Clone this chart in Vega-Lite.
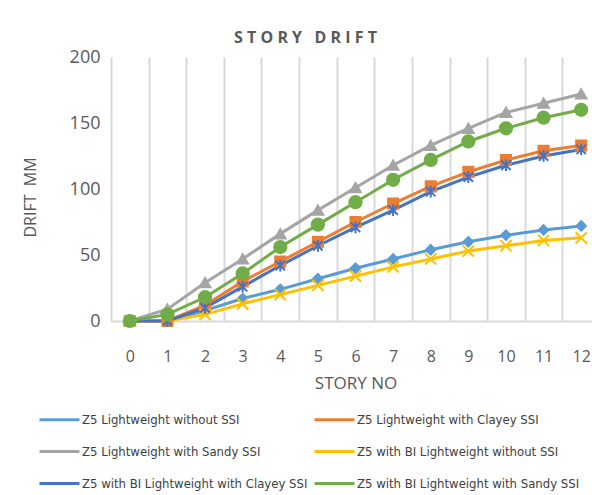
{
  "$schema": "https://vega.github.io/schema/vega-lite/v6.json",
  "autosize": "none",
  "padding": {"left": 111, "top": 57, "right": 0, "bottom": 174},
  "width": 489,
  "height": 264,
  "background": "white",
  "config": {"view": {"stroke": null}, "font": "Open Sans"},
  "title": {"text": "S T O R Y \u00a0 D R I F T", "fontSize": 16, "fontWeight": "bold", "color": "#595959", "font": "Open Sans", "dx": -50, "dy": 24, "baseline": "bottom", "offset": 10, "anchor": "middle"},
  "data": {"values": [
    {"story": 0, "drift": 0, "series": "Z5 Lightweight without SSI"},
    {"story": 1, "drift": 0, "series": "Z5 Lightweight without SSI"},
    {"story": 2, "drift": 8, "series": "Z5 Lightweight without SSI"},
    {"story": 3, "drift": 17, "series": "Z5 Lightweight without SSI"},
    {"story": 4, "drift": 24, "series": "Z5 Lightweight without SSI"},
    {"story": 5, "drift": 32, "series": "Z5 Lightweight without SSI"},
    {"story": 6, "drift": 40, "series": "Z5 Lightweight without SSI"},
    {"story": 7, "drift": 47, "series": "Z5 Lightweight without SSI"},
    {"story": 8, "drift": 54, "series": "Z5 Lightweight without SSI"},
    {"story": 9, "drift": 60, "series": "Z5 Lightweight without SSI"},
    {"story": 10, "drift": 65, "series": "Z5 Lightweight without SSI"},
    {"story": 11, "drift": 69, "series": "Z5 Lightweight without SSI"},
    {"story": 12, "drift": 72, "series": "Z5 Lightweight without SSI"},
    {"story": 0, "drift": 0, "series": "Z5 Lightweight with Clayey SSI"},
    {"story": 1, "drift": 0, "series": "Z5 Lightweight with Clayey SSI"},
    {"story": 2, "drift": 12, "series": "Z5 Lightweight with Clayey SSI"},
    {"story": 3, "drift": 30, "series": "Z5 Lightweight with Clayey SSI"},
    {"story": 4, "drift": 45, "series": "Z5 Lightweight with Clayey SSI"},
    {"story": 5, "drift": 60, "series": "Z5 Lightweight with Clayey SSI"},
    {"story": 6, "drift": 75, "series": "Z5 Lightweight with Clayey SSI"},
    {"story": 7, "drift": 89, "series": "Z5 Lightweight with Clayey SSI"},
    {"story": 8, "drift": 102, "series": "Z5 Lightweight with Clayey SSI"},
    {"story": 9, "drift": 113, "series": "Z5 Lightweight with Clayey SSI"},
    {"story": 10, "drift": 122, "series": "Z5 Lightweight with Clayey SSI"},
    {"story": 11, "drift": 129, "series": "Z5 Lightweight with Clayey SSI"},
    {"story": 12, "drift": 133, "series": "Z5 Lightweight with Clayey SSI"},
    {"story": 0, "drift": 0, "series": "Z5 Lightweight with Sandy SSI"},
    {"story": 1, "drift": 9, "series": "Z5 Lightweight with Sandy SSI"},
    {"story": 2, "drift": 29, "series": "Z5 Lightweight with Sandy SSI"},
    {"story": 3, "drift": 47, "series": "Z5 Lightweight with Sandy SSI"},
    {"story": 4, "drift": 66, "series": "Z5 Lightweight with Sandy SSI"},
    {"story": 5, "drift": 84, "series": "Z5 Lightweight with Sandy SSI"},
    {"story": 6, "drift": 101, "series": "Z5 Lightweight with Sandy SSI"},
    {"story": 7, "drift": 118, "series": "Z5 Lightweight with Sandy SSI"},
    {"story": 8, "drift": 133, "series": "Z5 Lightweight with Sandy SSI"},
    {"story": 9, "drift": 146, "series": "Z5 Lightweight with Sandy SSI"},
    {"story": 10, "drift": 158, "series": "Z5 Lightweight with Sandy SSI"},
    {"story": 11, "drift": 165, "series": "Z5 Lightweight with Sandy SSI"},
    {"story": 12, "drift": 172, "series": "Z5 Lightweight with Sandy SSI"},
    {"story": 0, "drift": 0, "series": "Z5 with BI Lightweight without SSI"},
    {"story": 1, "drift": 0, "series": "Z5 with BI Lightweight without SSI"},
    {"story": 2, "drift": 5, "series": "Z5 with BI Lightweight without SSI"},
    {"story": 3, "drift": 13, "series": "Z5 with BI Lightweight without SSI"},
    {"story": 4, "drift": 20, "series": "Z5 with BI Lightweight without SSI"},
    {"story": 5, "drift": 27, "series": "Z5 with BI Lightweight without SSI"},
    {"story": 6, "drift": 34, "series": "Z5 with BI Lightweight without SSI"},
    {"story": 7, "drift": 41, "series": "Z5 with BI Lightweight without SSI"},
    {"story": 8, "drift": 47, "series": "Z5 with BI Lightweight without SSI"},
    {"story": 9, "drift": 53, "series": "Z5 with BI Lightweight without SSI"},
    {"story": 10, "drift": 57, "series": "Z5 with BI Lightweight without SSI"},
    {"story": 11, "drift": 61, "series": "Z5 with BI Lightweight without SSI"},
    {"story": 12, "drift": 63, "series": "Z5 with BI Lightweight without SSI"},
    {"story": 0, "drift": 0, "series": "Z5 with BI Lightweight with Clayey SSI"},
    {"story": 1, "drift": 0, "series": "Z5 with BI Lightweight with Clayey SSI"},
    {"story": 2, "drift": 10, "series": "Z5 with BI Lightweight with Clayey SSI"},
    {"story": 3, "drift": 26, "series": "Z5 with BI Lightweight with Clayey SSI"},
    {"story": 4, "drift": 42, "series": "Z5 with BI Lightweight with Clayey SSI"},
    {"story": 5, "drift": 57, "series": "Z5 with BI Lightweight with Clayey SSI"},
    {"story": 6, "drift": 71, "series": "Z5 with BI Lightweight with Clayey SSI"},
    {"story": 7, "drift": 84, "series": "Z5 with BI Lightweight with Clayey SSI"},
    {"story": 8, "drift": 98, "series": "Z5 with BI Lightweight with Clayey SSI"},
    {"story": 9, "drift": 109, "series": "Z5 with BI Lightweight with Clayey SSI"},
    {"story": 10, "drift": 118, "series": "Z5 with BI Lightweight with Clayey SSI"},
    {"story": 11, "drift": 125, "series": "Z5 with BI Lightweight with Clayey SSI"},
    {"story": 12, "drift": 130, "series": "Z5 with BI Lightweight with Clayey SSI"},
    {"story": 0, "drift": 0, "series": "Z5 with BI Lightweight with Sandy SSI"},
    {"story": 1, "drift": 5, "series": "Z5 with BI Lightweight with Sandy SSI"},
    {"story": 2, "drift": 18, "series": "Z5 with BI Lightweight with Sandy SSI"},
    {"story": 3, "drift": 36, "series": "Z5 with BI Lightweight with Sandy SSI"},
    {"story": 4, "drift": 56, "series": "Z5 with BI Lightweight with Sandy SSI"},
    {"story": 5, "drift": 73, "series": "Z5 with BI Lightweight with Sandy SSI"},
    {"story": 6, "drift": 90, "series": "Z5 with BI Lightweight with Sandy SSI"},
    {"story": 7, "drift": 107, "series": "Z5 with BI Lightweight with Sandy SSI"},
    {"story": 8, "drift": 122, "series": "Z5 with BI Lightweight with Sandy SSI"},
    {"story": 9, "drift": 136, "series": "Z5 with BI Lightweight with Sandy SSI"},
    {"story": 10, "drift": 146, "series": "Z5 with BI Lightweight with Sandy SSI"},
    {"story": 11, "drift": 154, "series": "Z5 with BI Lightweight with Sandy SSI"},
    {"story": 12, "drift": 160, "series": "Z5 with BI Lightweight with Sandy SSI"}
  ]},
  "resolve": {"legend": {"color": "independent", "fill": "independent", "stroke": "independent", "shape": "independent", "size": "independent"}},
  "encoding": {
    "x": {"field": "story", "type": "ordinal", "sort": "ascending",
      "scale": {"type": "band", "paddingInner": 0, "paddingOuter": 0},
      "axis": {"title": "STORY NO", "labelAngle": 0, "tickBand": "extent", "grid": true, "gridColor": "#d9d9d9", "gridWidth": 2, "ticks": false, "domainColor": "#d9d9d9", "domainWidth": 2, "labelFont": "Open Sans", "labelFontSize": 16, "labelColor": "#595959", "labelPadding": 27, "titleFont": "Open Sans", "titleFontSize": 17, "titleFontWeight": "normal", "titleColor": "#595959", "titleY": 62, "titleBaseline": "middle"}},
    "y": {"field": "drift", "type": "quantitative",
      "scale": {"domain": [0, 200]},
      "axis": {"title": "DRIFT \u00a0MM", "values": [0, 50, 100, 150, 200], "grid": false, "ticks": false, "domain": false, "labelFont": "Open Sans", "labelFontSize": 18, "labelColor": "#595959", "labelPadding": 11, "titleFont": "Open Sans", "titleFontSize": 16, "titleFontWeight": "normal", "titleColor": "#595959", "titleX": -81, "titleY": 140, "titleBaseline": "middle", "titleAlign": "center"}}
  },
  "layer": [
    {
      "mark": {"type": "line", "strokeWidth": 3},
      "encoding": {
        "color": {"field": "series", "type": "nominal",
          "scale": {"domain": ["Z5 Lightweight without SSI", "Z5 Lightweight with Clayey SSI", "Z5 Lightweight with Sandy SSI", "Z5 with BI Lightweight without SSI", "Z5 with BI Lightweight with Clayey SSI", "Z5 with BI Lightweight with Sandy SSI"],
            "range": ["#5B9BD5", "#ED7D31", "#A5A5A5", "#FFC000", "#4472C4", "#70AD47"]},
          "legend": {"orient": "none", "legendX": -73, "legendY": 341, "direction": "horizontal", "columns": 2, "title": null, "symbolType": "stroke", "symbolSize": 1600, "symbolStrokeWidth": 3, "labelFont": "DejaVu Sans Condensed, Liberation Sans Narrow, Liberation Sans", "labelFontSize": 13, "labelColor": "#404040", "labelLimit": 300, "rowPadding": 3, "columnPadding": 0, "labelOffset": 1}}
      }
    },
    {
      "mark": {"type": "point", "filled": true, "strokeWidth": 2, "opacity": 1},
      "encoding": {
        "fill": {"field": "series", "type": "nominal",
          "scale": {"domain": ["Z5 Lightweight without SSI", "Z5 Lightweight with Clayey SSI", "Z5 Lightweight with Sandy SSI", "Z5 with BI Lightweight without SSI", "Z5 with BI Lightweight with Clayey SSI", "Z5 with BI Lightweight with Sandy SSI"],
            "range": ["#5B9BD5", "#ED7D31", "#A5A5A5", "#FFC000", "#4472C4", "#70AD47"]}, "legend": null},
        "stroke": {"field": "series", "type": "nominal",
          "scale": {"domain": ["Z5 Lightweight without SSI", "Z5 Lightweight with Clayey SSI", "Z5 Lightweight with Sandy SSI", "Z5 with BI Lightweight without SSI", "Z5 with BI Lightweight with Clayey SSI", "Z5 with BI Lightweight with Sandy SSI"],
            "range": ["#5B9BD5", "#ED7D31", "#A5A5A5", "#FFC000", "#4472C4", "#70AD47"]}, "legend": null},
        "shape": {"field": "series", "type": "nominal",
          "scale": {"domain": ["Z5 Lightweight without SSI", "Z5 Lightweight with Clayey SSI", "Z5 Lightweight with Sandy SSI", "Z5 with BI Lightweight without SSI", "Z5 with BI Lightweight with Clayey SSI", "Z5 with BI Lightweight with Sandy SSI"],
            "range": ["diamond", "square", "triangle-up", "M-1,-1L1,1M1,-1L-1,1", "M-0.8,-0.8L0.8,0.8M0.8,-0.8L-0.8,0.8M0,-1L0,1", "circle"]}, "legend": null},
        "size": {"field": "series", "type": "nominal",
          "scale": {"domain": ["Z5 Lightweight without SSI", "Z5 Lightweight with Clayey SSI", "Z5 Lightweight with Sandy SSI", "Z5 with BI Lightweight without SSI", "Z5 with BI Lightweight with Clayey SSI", "Z5 with BI Lightweight with Sandy SSI"],
            "range": [90, 150, 110, 110, 110, 200]}, "legend": null}
      }
    }
  ]
}
